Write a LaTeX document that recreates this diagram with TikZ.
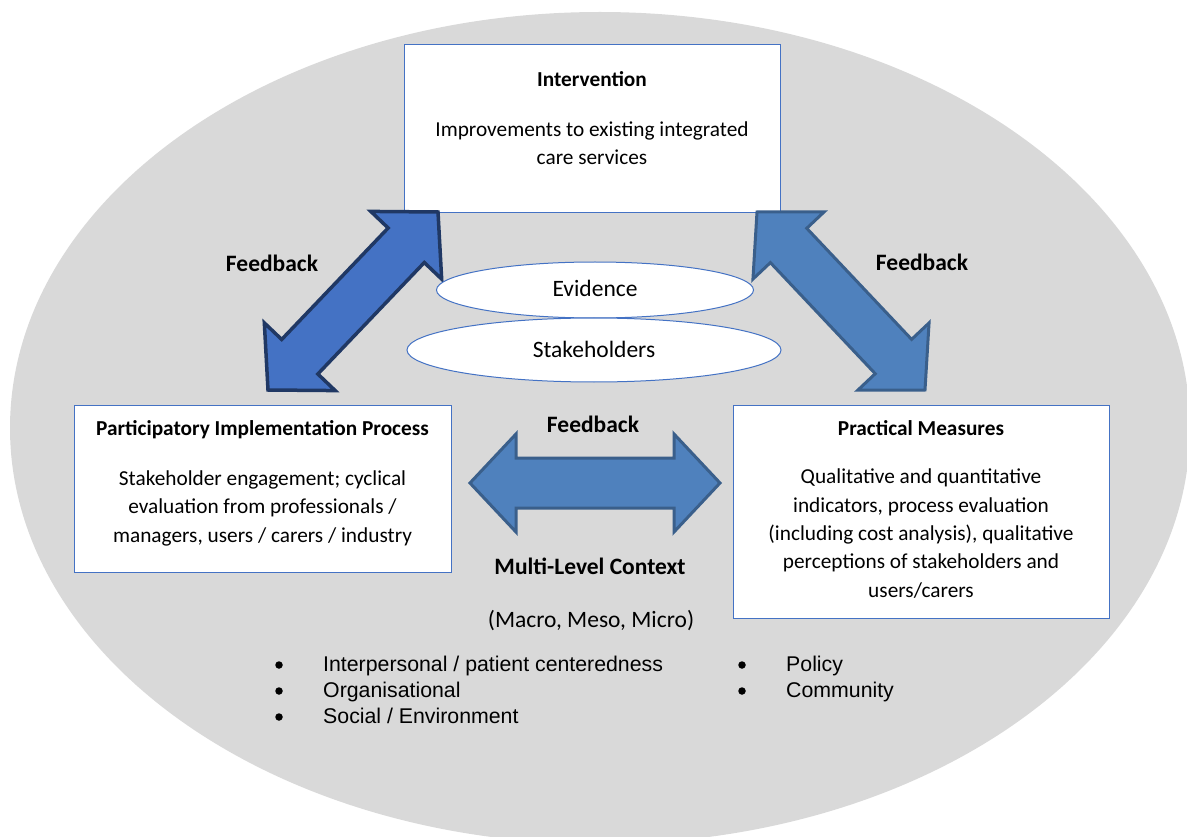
\documentclass[tikz,border=0pt]{standalone}
\usepackage{fontspec}
\setmainfont{Carlito}
\newfontfamily\arialfont{Liberation Sans}
\usetikzlibrary{positioning,calc,shapes.geometric}

\definecolor{ctxgray}{HTML}{D9D9D9}
\definecolor{boxline}{HTML}{4472C4}
\definecolor{fbfill}{HTML}{4F81BD}
\definecolor{fbline}{HTML}{3A5F8B}
\definecolor{fbdarkfill}{HTML}{4472C4}
\definecolor{fbdarkline}{HTML}{203864}

\tikzstyle{panel}=[draw=boxline,fill=white,line width=1pt,rectangle,inner sep=0pt,outer sep=0pt]
\tikzstyle{oval}=[draw=boxline,fill=white,line width=1pt,ellipse,inner sep=0pt,outer sep=0pt]
\tikzstyle{title}=[font=\fontsize{21.3}{28.3}\selectfont\bfseries,anchor=base,inner sep=0pt]
\tikzstyle{body}=[font=\fontsize{21.3}{28.3}\selectfont,align=center,anchor=base,inner sep=0pt]
\tikzstyle{fbtext}=[font=\fontsize{23.5}{28}\selectfont\bfseries,anchor=base,inner sep=0pt]
\tikzstyle{ovaltext}=[font=\fontsize{23.5}{28}\selectfont,anchor=base,inner sep=0pt]
\tikzstyle{listitem}=[font=\arialfont\fontsize{21.3}{26}\selectfont,anchor=base west,inner sep=0pt]
\tikzstyle{dot}=[circle,fill=black,inner sep=0pt,minimum size=7.5pt]
\tikzstyle{fbarrow}=[fill=fbfill,draw=fbline,line width=3pt,line join=miter]
\tikzstyle{fbdarkarrow}=[fill=fbdarkfill,draw=fbdarkline,line width=3.5pt,line join=miter]

% block arrow with a head at both ends: style, from, to
\newcommand{\feedbackarrow}[3]{%
  \draw[#1] (#2)
    -- ($(#2)!46pt!(#3)!49pt!90:(#3)$)
    -- ($(#2)!46pt!(#3)!25pt!90:(#3)$)
    -- ($(#3)!46pt!(#2)!25pt!-90:(#2)$)
    -- ($(#3)!46pt!(#2)!49pt!-90:(#2)$)
    -- (#3)
    -- ($(#3)!46pt!(#2)!49pt!90:(#2)$)
    -- ($(#3)!46pt!(#2)!25pt!90:(#2)$)
    -- ($(#2)!46pt!(#3)!25pt!-90:(#3)$)
    -- ($(#2)!46pt!(#3)!49pt!-90:(#3)$)
    -- cycle;}

\begin{document}
\begin{tikzpicture}[x=1pt,y=-1pt]
\useasboundingbox (0,0) rectangle (1187,837);

% context
\begin{scope}
\clip (0,0) rectangle (1187,837);
\node[ellipse,fill=ctxgray,inner sep=0pt,minimum width=1180pt,minimum height=832pt] (ctx) at (600,428) {};
\end{scope}

% the three boxes (body text sits on the baseline of its last line)
\node[panel,minimum width=376pt,minimum height=168pt] (interv) at (592,129) {};
\node[title] (intervT) at ([yshift=-42pt]interv.north) {Intervention};
\node[body] (intervB) at ([yshift=-120pt]interv.north) {Improvements to existing integrated\\care services};

\node[panel,minimum width=377pt,minimum height=167pt] (pip) at (262.5,488.5) {};
\node[title] (pipT) at ([yshift=-30pt]pip.north) {Participatory Implementation Process};
\node[body] (pipB) at ([yshift=-137pt]pip.north) {Stakeholder engagement; cyclical\\evaluation from professionals /\\managers, users / carers / industry};

\node[panel,minimum width=376pt,minimum height=213pt] (pm) at (921,511.5) {};
\node[title] (pmT) at ([yshift=-30pt]pm.north) {Practical Measures};
\node[body] (pmB) at ([yshift=-192pt]pm.north) {Qualitative and quantitative\\indicators, process evaluation\\(including cost analysis), qualitative\\perceptions of stakeholders and\\users/carers};

% feedback arrows
\coordinate (pipTip) at (268,390);
\coordinate (intervTipL) at (438,212);
\coordinate (intervTipR) at (757,212);
\coordinate (pmTip) at (925,390);
\coordinate (midL) at (470,483);
\coordinate (midR) at (720,483);
\feedbackarrow{fbdarkarrow}{pipTip}{intervTipL}
\feedbackarrow{fbarrow}{intervTipR}{pmTip}
\feedbackarrow{fbarrow}{midL}{midR}

\node[fbtext] (fbL) at (272,272) {Feedback};
\node[fbtext] (fbR) at (922,271) {Feedback};
\node[fbtext] (fbM) at (593,432) {Feedback};

% evidence and stakeholders
\node[oval,minimum width=317pt,minimum height=56pt] (evid) at (595,290) {};
\node[oval,minimum width=374pt,minimum height=64pt] (stake) at (594,350) {};
\node[ovaltext] at ([yshift=-7pt]evid.center) {Evidence};
\node[ovaltext] at ([yshift=-7pt]stake.center) {Stakeholders};

% multi-level context
\node[fbtext] (mlc) at (590,574) {Multi-Level Context};
\node[ovaltext] (levels) at (591,627) {(Macro, Meso, Micro)};
\foreach \txt [count=\i from 0] in {Interpersonal / patient centeredness,Organisational,Social / Environment} {
  \node[dot] (dotL\i) at (279,{665+26*\i}) {};
  \node[listitem] (itemL\i) at (323,{671+26*\i}) {\txt};
}
\foreach \txt [count=\i from 0] in {Policy,Community} {
  \node[dot] (dotR\i) at (742,{665+26*\i}) {};
  \node[listitem] (itemR\i) at (786,{671+26*\i}) {\txt};
}
\end{tikzpicture}
\end{document}
